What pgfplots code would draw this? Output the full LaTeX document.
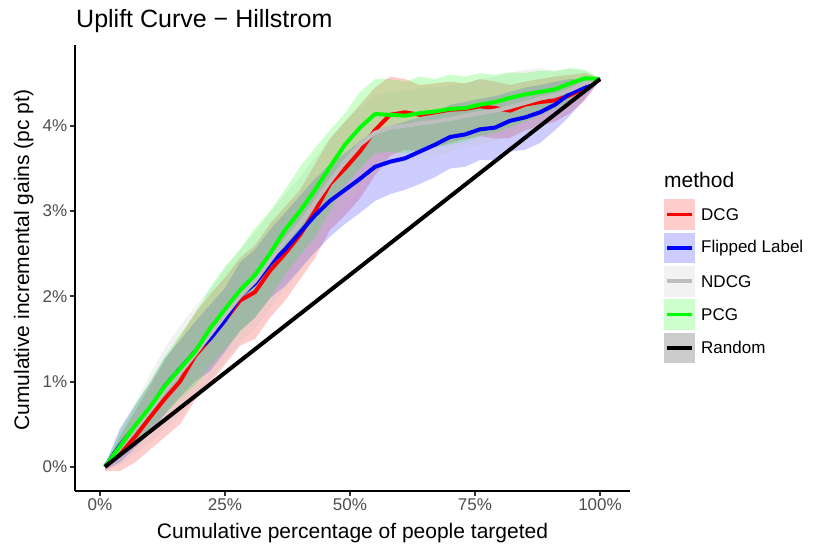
\documentclass[border=0pt]{standalone}
\usepackage{pgfplots}
\pgfplotsset{compat=1.18}
\usepackage{pgfplotstable}
\usepgfplotslibrary{fillbetween}
\usepackage{fontspec}
\setmainfont{Liberation Sans}
\definecolor{tickgray}{HTML}{4D4D4D}
\definecolor{tickline}{HTML}{333333}
\definecolor{ndcg}{HTML}{BEBEBE}

\pgfplotstableread{
x y lo hi
1 0.00 -0.05 0.02
4 0.15 -0.05 0.35
7 0.35 0.05 0.65
10 0.58 0.20 0.95
13 0.80 0.35 1.25
16 1.00 0.50 1.52
19 1.30 0.78 1.80
22 1.50 0.98 2.02
25 1.72 1.20 2.22
28 1.95 1.42 2.45
31 2.05 1.50 2.60
34 2.30 1.75 2.85
37 2.50 1.95 3.05
40 2.72 2.20 3.25
43 3.00 2.45 3.55
46 3.32 2.78 3.85
49 3.50 2.95 4.05
52 3.70 3.15 4.25
55 3.95 3.42 4.45
58 4.13 3.65 4.58
61 4.16 3.72 4.55
64 4.13 3.70 4.48
67 4.16 3.75 4.50
70 4.19 3.80 4.52
73 4.20 3.85 4.50
76 4.23 3.88 4.55
79 4.21 3.85 4.52
82 4.18 3.86 4.48
85 4.25 3.95 4.52
88 4.28 4.00 4.55
91 4.30 4.05 4.58
94 4.36 4.15 4.60
97 4.45 4.30 4.62
100 4.55 4.54 4.56
}\dcgtab

\pgfplotstableread{
x y lo hi
1 0.00 -0.04 0.02
4 0.25 0.05 0.45
7 0.47 0.22 0.72
10 0.68 0.40 0.98
13 0.95 0.62 1.28
16 1.15 0.82 1.48
19 1.35 1.00 1.70
22 1.50 1.12 1.90
25 1.72 1.35 2.10
28 2.00 1.60 2.40
31 2.15 1.75 2.55
34 2.38 1.98 2.78
37 2.55 2.12 2.98
40 2.75 2.32 3.18
43 2.95 2.52 3.38
46 3.12 2.70 3.55
49 3.25 2.85 3.68
52 3.38 2.98 3.82
55 3.52 3.12 3.95
58 3.58 3.20 4.00
61 3.62 3.25 4.05
64 3.70 3.32 4.10
67 3.78 3.40 4.15
70 3.87 3.50 4.25
73 3.90 3.52 4.28
76 3.96 3.60 4.32
79 3.98 3.60 4.35
82 4.06 3.70 4.40
85 4.10 3.72 4.45
88 4.16 3.80 4.48
91 4.25 3.95 4.52
94 4.38 4.12 4.55
97 4.46 4.32 4.55
100 4.55 4.54 4.56
}\fliptab

\pgfplotstableread{
x y lo hi
1 0.00 -0.03 0.03
4 0.22 0.02 0.42
7 0.44 0.15 0.75
10 0.66 0.28 1.08
13 0.90 0.45 1.40
16 1.10 0.60 1.65
19 1.32 0.80 1.88
22 1.55 1.02 2.08
25 1.78 1.25 2.32
28 2.00 1.45 2.55
31 2.18 1.62 2.75
34 2.42 1.85 2.98
37 2.65 2.08 3.20
40 2.85 2.30 3.40
43 3.10 2.55 3.62
46 3.35 2.82 3.85
49 3.58 3.05 4.05
52 3.78 3.28 4.22
55 3.92 3.45 4.35
58 3.98 3.55 4.40
61 4.00 3.58 4.42
64 4.03 3.62 4.45
67 4.05 3.65 4.45
70 4.08 3.70 4.48
73 4.12 3.75 4.50
76 4.15 3.78 4.55
79 4.18 3.82 4.58
82 4.22 3.88 4.62
85 4.27 3.92 4.66
88 4.32 3.98 4.68
91 4.36 4.08 4.65
94 4.42 4.18 4.67
97 4.50 4.35 4.64
100 4.55 4.54 4.56
}\ndcgtab

\pgfplotstableread{
x y lo hi
1 0.00 -0.02 0.02
4 0.24 0.10 0.40
7 0.48 0.28 0.72
10 0.70 0.45 1.00
13 0.95 0.62 1.30
16 1.15 0.80 1.55
19 1.35 0.95 1.80
22 1.62 1.18 2.10
25 1.85 1.38 2.35
28 2.07 1.58 2.55
31 2.25 1.75 2.80
34 2.50 1.98 3.00
37 2.78 2.25 3.25
40 3.00 2.48 3.52
43 3.25 2.70 3.74
46 3.52 3.00 3.95
49 3.78 3.30 4.15
52 3.98 3.50 4.40
55 4.14 3.68 4.55
58 4.13 3.70 4.55
61 4.12 3.68 4.52
64 4.15 3.72 4.58
67 4.17 3.75 4.55
70 4.20 3.78 4.60
73 4.21 3.82 4.58
76 4.25 3.88 4.62
79 4.28 3.92 4.60
82 4.33 3.98 4.63
85 4.37 4.05 4.62
88 4.40 4.12 4.65
91 4.43 4.20 4.64
94 4.50 4.30 4.68
97 4.56 4.42 4.66
100 4.55 4.54 4.56
}\pcgtab

\begin{document}
\begin{tikzpicture}
\begin{axis}[
  at={(75pt,63pt)}, anchor=south west,
  scale only axis, width=555pt, height=446pt,
  xmin=-5, xmax=106, ymin=-0.285, ymax=4.95,
  axis x line*=bottom, axis y line*=left,
  axis line style={line width=2pt, black},
  tick align=outside, major tick length=5.25pt,
  tick style={line width=2pt, color=tickline},
  xtick={0,25,50,75,100}, ytick={0,1,2,3,4},
  /pgf/number format/assume math mode=true,
  xticklabel={\pgfmathprintnumber{\tick}\%},
  yticklabel={\pgfmathprintnumber{\tick}\%},
  ticklabel style={font=\fontsize{17}{20}\selectfont, text=tickgray},
  xticklabel style={yshift=1pt},
  yticklabel style={xshift=1pt},
]
% ribbons
\addplot[name path=dh, draw=none, forget plot] table[x=x,y=hi]{\dcgtab};
\addplot[name path=dl, draw=none, forget plot] table[x=x,y=lo]{\dcgtab};
\addplot[fill=red, fill opacity=0.2, draw=none, forget plot] fill between[of=dh and dl];
\addplot[name path=fh, draw=none, forget plot] table[x=x,y=hi]{\fliptab};
\addplot[name path=fl, draw=none, forget plot] table[x=x,y=lo]{\fliptab};
\addplot[fill=blue, fill opacity=0.2, draw=none, forget plot] fill between[of=fh and fl];
\addplot[name path=nh, draw=none, forget plot] table[x=x,y=hi]{\ndcgtab};
\addplot[name path=nl, draw=none, forget plot] table[x=x,y=lo]{\ndcgtab};
\addplot[fill=ndcg, fill opacity=0.2, draw=none, forget plot] fill between[of=nh and nl];
\addplot[name path=ph, draw=none, forget plot] table[x=x,y=hi]{\pcgtab};
\addplot[name path=pl, draw=none, forget plot] table[x=x,y=lo]{\pcgtab};
\addplot[fill=green, fill opacity=0.2, draw=none, forget plot] fill between[of=ph and pl];
% lines
\addplot[red, line width=4pt, line join=round] table[x=x,y=y]{\dcgtab};
\addplot[blue, line width=4pt, line join=round] table[x=x,y=y]{\fliptab};
\addplot[ndcg, line width=4pt, line join=round] table[x=x,y=y]{\ndcgtab};
\addplot[green, line width=4pt, line join=round] table[x=x,y=y]{\pcgtab};
\addplot[black, line width=4pt] coordinates {(1,0) (100,4.55)};
\end{axis}
% axis titles
\node[anchor=base, font=\fontsize{21}{24}\selectfont, inner sep=0] at (352.5pt,15pt) {Cumulative percentage of people targeted};
\node[anchor=base, rotate=90, font=\fontsize{21}{24}\selectfont, inner sep=0] at (29pt,294pt) {Cumulative incremental gains (pc pt)};
% title
\node[anchor=base west, font=\fontsize{25}{29}\selectfont, inner sep=0] at (76pt,526pt) {Uplift Curve {\textminus} Hillstrom};
% legend
\node[anchor=base west, font=\fontsize{21}{24}\selectfont, inner sep=0] at (664pt,366pt) {method};
\foreach \c/\l/\t [count=\i from 0] in {red!20/red/DCG, blue!20/blue/Flipped Label, ndcg!20/ndcg/NDCG, green!20/green/PCG, black!20/black/Random}{
  \pgfmathsetmacro{\yc}{339.3-33.3*\i}
  \fill[\c] (664pt,\yc pt-15.3pt) rectangle (695pt,\yc pt+15.3pt);
  \draw[\l, line width=3.6pt] (667pt,\yc pt) -- (692pt,\yc pt);
  \node[anchor=west, font=\fontsize{17}{20}\selectfont, inner sep=0] at (701pt,\yc pt) {\t};
}
\pgfresetboundingbox
\useasboundingbox (0,0) rectangle (830pt,554pt);
\end{tikzpicture}
\end{document}
